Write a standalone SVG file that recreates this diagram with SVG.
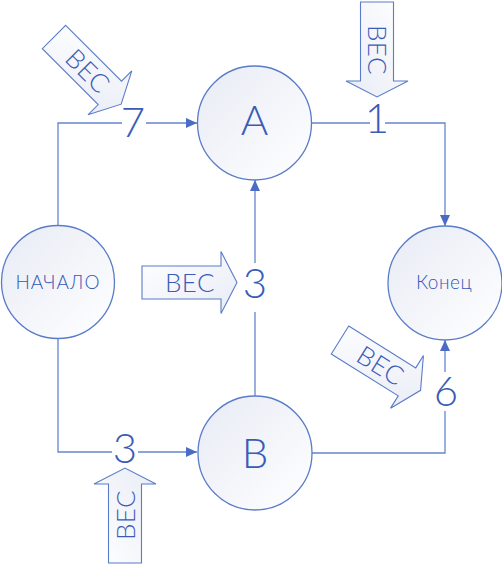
<svg xmlns="http://www.w3.org/2000/svg" xmlns:xlink="http://www.w3.org/1999/xlink" width="502" height="565" viewBox="0 0 502 565">
<style>
.node{fill:url(#nodeGrad);stroke:#5a7cc8;stroke-width:1.3}
.conn{fill:none;stroke:#6486d0;stroke-width:1.3}
.num{font-family:Lato,"Liberation Sans",sans-serif;font-weight:300;font-size:42px;fill:#3a5cb8;text-anchor:middle}
.big{font-family:Lato,"Liberation Sans",sans-serif;font-weight:300;font-size:42px;fill:#3a5cb8;text-anchor:middle}
.small{font-family:Lato,"Liberation Sans",sans-serif;font-weight:300;font-size:19px;fill:#3558b4;text-anchor:middle}
.ves{font-family:Lato,"Liberation Sans",sans-serif;font-weight:300;font-size:26px;fill:#3a5cb8;text-anchor:middle;letter-spacing:0.5px}
.barrow{fill:url(#arrGrad);stroke:#5a7cc8;stroke-width:1.1}
</style>
<defs>
<linearGradient id="nodeGrad" x1="0" y1="0" x2="1" y2="1">
<stop offset="0" stop-color="#e8ebf5"/>
<stop offset="1" stop-color="#ffffff"/>
</linearGradient>
<linearGradient id="arrGrad" x1="0" y1="0" x2="1" y2="1">
<stop offset="0" stop-color="#ffffff"/>
<stop offset="1" stop-color="#e9ecf6"/>
</linearGradient>
<marker id="ah" markerUnits="userSpaceOnUse" markerWidth="12" markerHeight="10" refX="11" refY="5" orient="auto">
<path d="M0,0 L11,5 L0,10 z" fill="#4a6cc4"/>
</marker>
<polygon id="barr" class="barrow" points="0,-16.5 79,-16.5 79,-31 95,0 79,31 79,16.5 0,16.5"/>
</defs>

<g id="connectors">
<path class="conn" d="M58,226 V123 H122 M146,123 H197" marker-end="url(#ah)"/>
<path class="conn" d="M311,123 H370 M385,123 H445 V226" marker-end="url(#ah)"/>
<path class="conn" d="M58,339 V452 H112 M138,452 H197" marker-end="url(#ah)"/>
<path class="conn" d="M255,396 V312 M255,263 V180" marker-end="url(#ah)"/>
<path class="conn" d="M312,453 H445 V411 M445,372 V340" marker-end="url(#ah)"/>
</g>

<g id="labels">
<text class="num" x="133" y="137">7</text>
<text class="num" x="377" y="133">1</text>
<text class="num" x="255" y="298">3</text>
<text class="num" x="446" y="406">6</text>
<text class="num" x="125" y="463">3</text>
</g>

<g id="node-start">
<circle class="node" cx="58" cy="282" r="56.5"/>
<text class="small" x="58" y="289" letter-spacing="1">НАЧАЛО</text>
</g>
<g id="node-A">
<circle class="node" cx="254.5" cy="123" r="57"/>
<text class="big" x="254.5" y="135">A</text>
</g>
<g id="node-B">
<circle class="node" cx="255" cy="453" r="57"/>
<text class="big" x="255" y="468">B</text>
</g>
<g id="node-end">
<circle class="node" cx="445" cy="283" r="57"/>
<text class="small" x="444" y="289" letter-spacing="0.5">Конец</text>
</g>

<g id="weight-arrows">
<g transform="translate(54,37) rotate(45)">
<use xlink:href="#barr"/>
<text class="ves" x="48" y="9.5">ВЕС</text>
</g>
<g transform="translate(377,2) rotate(90)">
<use xlink:href="#barr"/>
<text class="ves" x="48" y="9.5">ВЕС</text>
</g>
<g transform="translate(142,282.5)">
<use xlink:href="#barr"/>
<text class="ves" x="48" y="9.5">ВЕС</text>
</g>
<g transform="translate(340,340) rotate(32)">
<use xlink:href="#barr"/>
<text class="ves" x="48" y="9.5">ВЕС</text>
</g>
<g transform="translate(125,563) rotate(-90)">
<use xlink:href="#barr"/>
<text class="ves" x="48" y="9.5">ВЕС</text>
</g>
</g>
</svg>
